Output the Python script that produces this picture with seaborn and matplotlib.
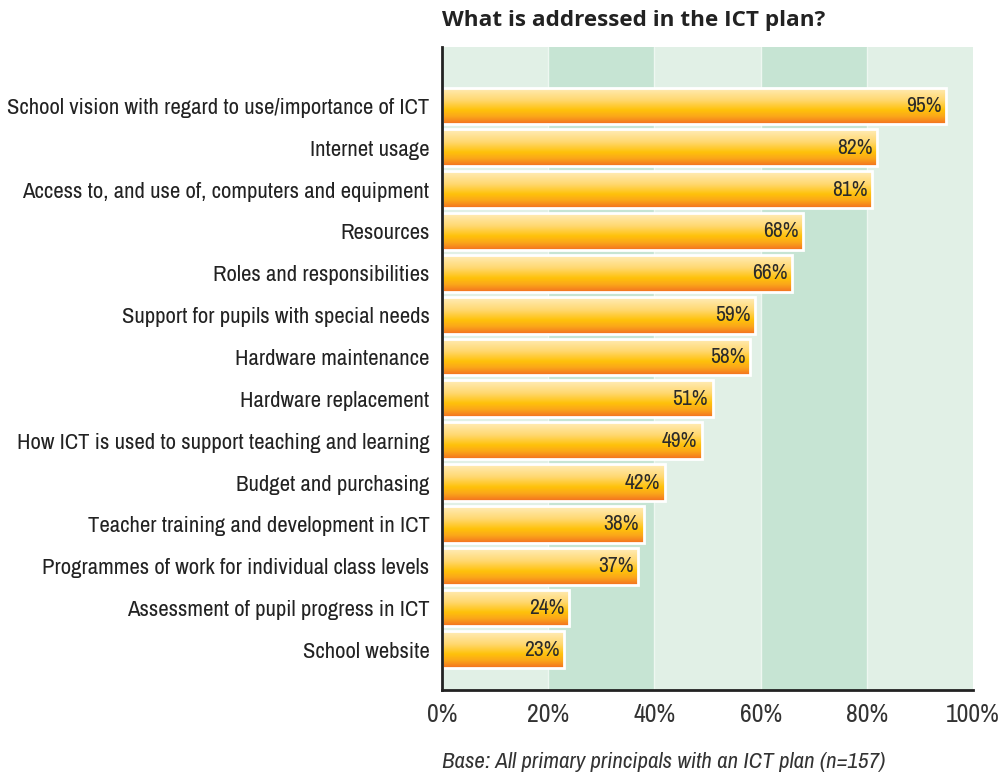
import numpy as np
import pandas as pd
import matplotlib.pyplot as plt
import seaborn as sns
from matplotlib import font_manager as fm
from matplotlib.colors import LinearSegmentedColormap

items = [
    "School vision with regard to use/importance of ICT",
    "Internet usage",
    "Access to, and use of, computers and equipment",
    "Resources",
    "Roles and responsibilities",
    "Support for pupils with special needs",
    "Hardware maintenance",
    "Hardware replacement",
    "How ICT is used to support teaching and learning",
    "Budget and purchasing",
    "Teacher training and development in ICT",
    "Programmes of work for individual class levels",
    "Assessment of pupil progress in ICT",
    "School website",
]
pct = [95, 82, 81, 68, 66, 59, 58, 51, 49, 42, 38, 37, 24, 23]
ticks = [0, 20, 40, 60, 80, 100]

df = pd.DataFrame({"item": items, "pct": pct})

# the original uses a condensed face; prefer Archivo Narrow if present
have = {f.name for f in fm.fontManager.ttflist}
narrow = [n for n in ["Archivo Narrow", "Asap Condensed", "Barlow Semi Condensed"]
          if n in have]

sns.set_style("white")
plt.rcParams["font.family"] = narrow[:1] + ["Liberation Sans", "DejaVu Sans"]

fig = plt.figure(figsize=(10.04, 7.78), dpi=100)
ax = fig.add_axes([0.4402, 0.1131, 0.5289, 0.8265])

sns.barplot(data=df, x="pct", y="item", orient="h", ax=ax, width=0.88,
            color="#ffc20e", edgecolor="white", linewidth=2, zorder=2)
bars = list(ax.patches)

# alternating green bands
for i, x0 in enumerate(ticks[:-1]):
    col = "#c6e4d3" if i % 2 else "#e1f0e6"
    ax.axvspan(x0, x0 + 20, color=col, lw=0, zorder=0)
    if i:
        ax.axvline(x0, color="#eef7f1", lw=1, zorder=0.5)

# vertical gradient fill for each bar
cmap = LinearSegmentedColormap.from_list(
    "bar", [(0, "#ffedbb"), (0.35, "#ffd870"), (0.62, "#ffc20a"),
            (0.8, "#fba61a"), (1, "#f36f21")])
grad = np.linspace(0, 1, 256).reshape(-1, 1)
for p in bars:
    x, y = p.get_x(), p.get_y()
    w, h = p.get_width(), p.get_height()
    im = ax.imshow(grad, cmap=cmap, aspect="auto", zorder=2.5,
                   extent=[x, x + w, y + h, y], interpolation="bicubic")
    im.set_clip_path(p)
    p.set_facecolor("none")
    p.set_zorder(3)

for i, v in enumerate(pct):
    ax.text(v - 0.9, i, f"{v}%", ha="right", va="center", fontsize=15.5,
            color="#2a2a2a", zorder=4)

ax.set_xlim(0, 100)
ax.set_ylim(13.96, -1.41)
ax.set_xticks(ticks)
ax.set_xticklabels([f"{t}%" for t in ticks], fontsize=18.5, color="#333333")
ax.tick_params(axis="y", labelsize=16.4, length=0, pad=9, colors="#222222")
ax.tick_params(axis="x", length=0, pad=9)
ax.set_xlabel("")
ax.set_ylabel("")
for s in ["top", "right"]:
    ax.spines[s].set_visible(False)
for s in ["left", "bottom"]:
    ax.spines[s].set_color("#222222")
    ax.spines[s].set_linewidth(2)
    ax.spines[s].set_zorder(5)

fig.text(0.4402, 0.974, "What is addressed in the ICT plan?", fontsize=16.2,
         fontweight="bold", family=["Open Sans", "DejaVu Sans"],
         color="#222222", ha="left", va="center")
fig.text(0.4402, 0.021, "Base: All primary principals with an ICT plan (n=157)",
         fontsize=16.5, style="italic", color="#333333", ha="left", va="center")

fig.savefig("out.png", dpi=100)
